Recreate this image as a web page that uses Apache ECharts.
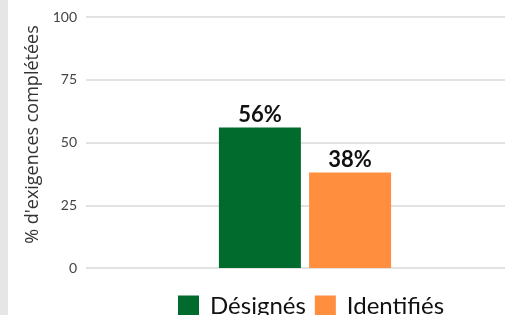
<!DOCTYPE html>
<html>
<head>
<meta charset="utf-8">
<script src="https://cdn.jsdelivr.net/npm/echarts@6/dist/echarts.min.js"></script>
<style>
  html, body { margin: 0; padding: 0; background: #fff; }
  #chart { width: 505px; height: 315px; }
</style>
</head>
<body>
<div id="chart"></div>
<script>
// données
var categories = [''];
var seriesNames = ['Désignés', 'Identifiés'];
var designes = [56];
var identifies = [38];
var yTicks = [0, 25, 50, 75, 100];

var chart = echarts.init(document.getElementById('chart'));

var labelStyle = {
  show: true,
  position: 'top',
  distance: 2,
  formatter: '{c}%',
  fontFamily: 'Lato',
  fontWeight: 'bold',
  fontSize: 22,
  color: '#111'
};

var option = {
  animation: false,
  backgroundColor: '#fff',
  graphic: [{
    type: 'rect',
    shape: { x: 0, y: 0, width: 8, height: 315 },
    style: { fill: '#e6e6e6' }
  }],
  grid: { left: 86, top: 17, width: 438, height: 251, outerBoundsMode: 'none' },
  legend: {
    data: seriesNames,
    top: 289,
    left: 173,
    itemWidth: 21,
    itemHeight: 21,
    itemGap: 9,
    icon: 'rect',
    textStyle: { fontFamily: 'Lato', fontSize: 24, color: '#111', padding: [0, 0, 0, 6] }
  },
  xAxis: {
    type: 'category',
    data: categories,
    axisLine: { show: false },
    axisTick: { show: false },
    axisLabel: { show: false }
  },
  yAxis: {
    type: 'value',
    min: yTicks[0],
    max: yTicks[yTicks.length - 1],
    interval: 25,
    name: "% d'exigences complétées",
    nameLocation: 'middle',
    nameGap: 38,
    nameTextStyle: { fontFamily: 'Open Sans', fontSize: 18, color: '#333', padding: [0, 0, 0, 16] },
    axisLabel: { fontFamily: 'Lato', fontSize: 14, color: '#444', margin: 9 },
    splitLine: { lineStyle: { color: '#d9d9d9', width: 1.5 } }
  },
  series: [{
    name: seriesNames[0],
    type: 'bar',
    data: designes,
    barWidth: 82,
    barGap: '10%',
    itemStyle: { color: '#006b2d' },
    label: labelStyle
  }, {
    name: seriesNames[1],
    type: 'bar',
    data: identifies,
    barWidth: 82,
    itemStyle: { color: '#ff8f3f' },
    label: labelStyle
  }]
};

chart.setOption(option);
</script>
</body>
</html>
